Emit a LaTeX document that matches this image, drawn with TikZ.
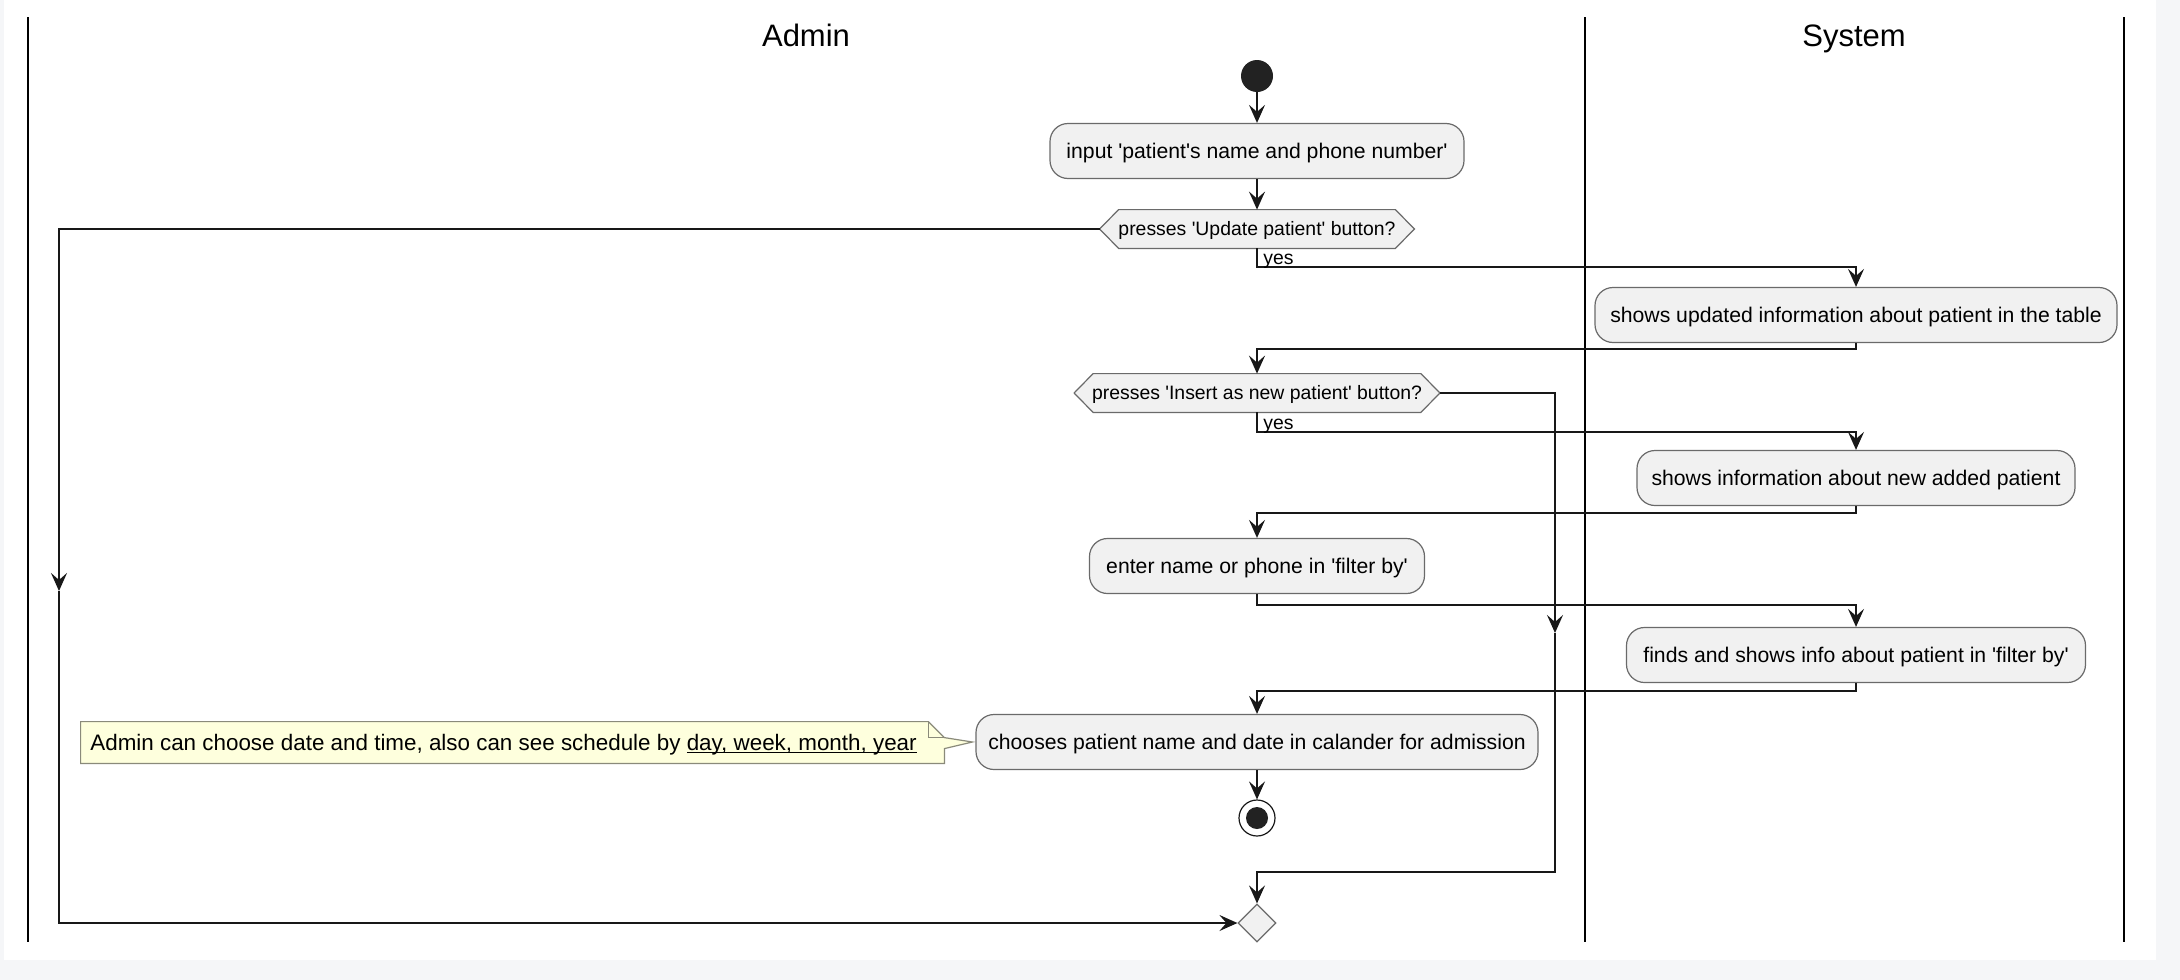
\documentclass[tikz,border=0pt]{standalone}
\usepackage{fontspec}
\setmainfont{Liberation Sans}
\usetikzlibrary{arrows.meta,calc,shapes.geometric}
\newlength\pxu
\setlength\pxu{0.5pt}
\newcommand\sqt{\textquotesingle}
\definecolor{bggray}{HTML}{F5F6F8}
\definecolor{actfill}{HTML}{F1F1F1}
\definecolor{actdraw}{HTML}{6A6A6A}
\definecolor{linec}{HTML}{181818}
\definecolor{notefill}{HTML}{FEFFDD}
\definecolor{notedraw}{HTML}{8A8A7A}
\definecolor{dotc}{HTML}{222222}
\pgfdeclarelayer{bglayer}
\pgfdeclarelayer{background}
\pgfsetlayers{bglayer,background,main}
\begin{document}
\begin{tikzpicture}[x=0.5pt,y=-0.5pt,
  act/.style={draw=actdraw, fill=actfill, line width=1.2\pxu, rounded corners=18\pxu, minimum height=55\pxu, inner sep=0pt, text height=7.6pt, text depth=0pt, font=\fontsize{10.6}{12}\selectfont},
  decbox/.style={minimum height=38\pxu, inner sep=0pt, text height=6.9pt, text depth=0pt, font=\fontsize{9.7}{11}\selectfont},
  hexa/.style={draw=actdraw, fill=actfill, line width=1.2\pxu},
  flow/.style={draw=linec, line width=2\pxu, -{Stealth[length=9pt, width=8pt, inset=3.5pt]}},
  lane/.style={draw=black, line width=2.6\pxu},
  lanetitle/.style={font=\fontsize{15.5}{18}\selectfont, inner sep=0pt, anchor=base},
  yeslbl/.style={anchor=base west, inner sep=0pt, font=\fontsize{9.7}{11}\selectfont},
  notestyle/.style={draw=notedraw, fill=notefill, line width=1.2\pxu},
]
\useasboundingbox (0,0) rectangle (2180,980);
\begin{pgfonlayer}{bglayer}
\fill[bggray] (0,0) rectangle (2180,980);
\fill[white] (4,0) rectangle (2156,960);
\end{pgfonlayer}

% swimlanes
\draw[lane] (28,17) -- (28,942);
\draw[lane] (1585,17) -- (1585,942);
\draw[lane] (2124,17) -- (2124,942);
\node[lanetitle] (tadmin) at (806,46) {Admin};
\node[lanetitle] (tsys) at (1854,46) {System};

% nodes
\node[circle, fill=dotc, minimum size=32\pxu, inner sep=0pt] (start) at (1257,76) {};
\node[act, minimum width=414\pxu] (a1) at (1257,151) {input \sqt patient\sqt s name and phone number\sqt};
\node[decbox, minimum width=314\pxu] (d1) at (1257,229) {presses \sqt Update patient\sqt\ button?};
\node[act, minimum width=522\pxu] (a2) at (1856,315) {shows updated information about patient in the table};
\node[decbox, minimum width=365\pxu] (d2) at (1257,393) {presses \sqt Insert as new patient\sqt\ button?};
\node[act, minimum width=438\pxu] (a3) at (1856,478) {shows information about new added patient};
\node[act, minimum width=335\pxu] (a4) at (1257,566) {enter name or phone in \sqt filter by\sqt};
\node[act, minimum width=459\pxu] (a5) at (1856,655) {finds and shows info about patient in \sqt filter by\sqt};
\node[act, minimum width=562\pxu] (a6) at (1257,742) {chooses patient name and date in calander for admission};
\node[circle, draw=linec, fill=white, line width=1.2\pxu, minimum size=36\pxu, inner sep=0pt] (end) at (1257,818) {};
\fill[dotc] (end.center) circle[radius=11\pxu];
\node[diamond, draw=actdraw, fill=actfill, line width=1.2\pxu, minimum width=38\pxu, minimum height=38\pxu, inner sep=0pt] (merge) at (1257,923) {};

% note
\node[minimum width=863\pxu, minimum height=41\pxu, inner sep=0pt] (note) at (512.5,742.5) {};
\node[anchor=base west, inner sep=0pt, font=\fontsize{11.2}{13}\selectfont] (notetext) at (90,750) {Admin can choose date and time, also can see schedule by \underline{\smash{day, week, month, year}}};

\begin{pgfonlayer}{background}
\path[hexa] (d1.west) -- ([xshift=19\pxu]d1.north west) -- ([xshift=-19\pxu]d1.north east) -- (d1.east) -- ([xshift=-19\pxu]d1.south east) -- ([xshift=19\pxu]d1.south west) -- cycle;
\path[hexa] (d2.west) -- ([xshift=19\pxu]d2.north west) -- ([xshift=-19\pxu]d2.north east) -- (d2.east) -- ([xshift=-19\pxu]d2.south east) -- ([xshift=19\pxu]d2.south west) -- cycle;
\path[notestyle] (note.north west) -- ([xshift=-16\pxu]note.north east) -- ([yshift=-16\pxu]note.north east) -- ([xshift=-3\pxu]a6.west) -- ([yshift=-27\pxu]note.north east) -- (note.south east) -- (note.south west) -- cycle;
\draw[notedraw, line width=1.2\pxu] ([xshift=-16\pxu]note.north east) |- ([yshift=-16\pxu]note.north east);
\end{pgfonlayer}

% connectors
\coordinate (y1) at (1257,267);
\coordinate (r1) at (1856,349);
\coordinate (y2) at (1257,432);
\coordinate (r2) at (1856,513);
\coordinate (y4) at (1257,605);
\coordinate (r3) at (1856,691);
\coordinate (lm) at (59,591);
\coordinate (rm) at (1555,633);
\coordinate (j2) at (1555,872);

\draw[flow] (start.south) -- (a1.north);
\draw[flow] (a1.south) -- (d1.north);
\draw[flow] (d1.south) -- (y1) -| (a2.north);
\draw[flow] (a2.south) -- (r1) -| (d2.north);
\draw[flow] (d2.south) -- (y2) -| (a3.north);
\draw[flow] (a3.south) -- (r2) -| (a4.north);
\draw[flow] (a4.south) -- (y4) -| (a5.north);
\draw[flow] (a5.south) -- (r3) -| (a6.north);
\draw[flow] (a6.south) -- (end.north);
\draw[flow] (d1.west) -| (lm);
\draw[flow] (lm) |- (merge.west);
\draw[flow] (d2.east) -| (rm);
\draw[flow] (rm) -- (j2) -| (merge.north);

\node[yeslbl] (yes1) at (1263,264) {yes};
\node[yeslbl] (yes2) at (1263,429) {yes};
\end{tikzpicture}
\end{document}
